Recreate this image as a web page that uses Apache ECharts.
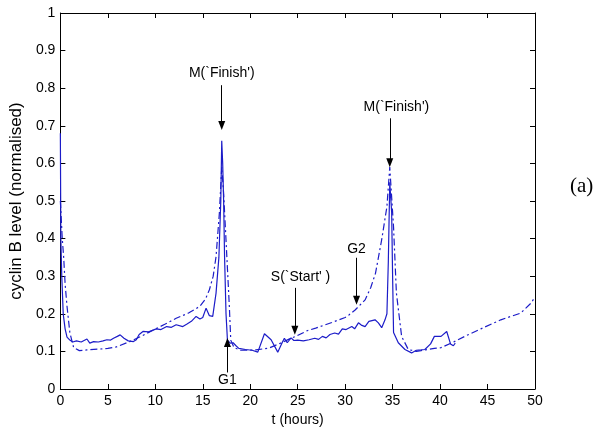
<!DOCTYPE html>
<html><head><meta charset="utf-8">
<script src="https://cdn.jsdelivr.net/npm/echarts@6/dist/echarts.min.js"></script>
<style>html,body{margin:0;padding:0;background:#fff}#c{width:605px;height:435px}</style>
</head><body><div id="c"></div>
<script>
// Measured cyclin B (solid)
const tSolid = [0,0.05,0.15,0.3,0.5,0.7,1.0,1.3,1.7,2.2,2.8,3.1,3.5,4.0,4.5,4.9,5.3,5.6,6.0,6.3,6.7,7.15,7.7,8.0,8.3,8.7,9.3,10.1,10.6,11.2,11.7,12.2,12.9,13.3,13.8,14.3,14.7,15.0,15.35,15.7,16.05,16.4,16.7,16.9,17.0,17.1,17.2,17.3,17.45,17.6,17.9,18.2,18.5,18.8,19.5,20.2,20.8,21.5,22.2,22.9,23.3,23.6,23.9,24.3,24.6,25.0,25.6,26.2,26.8,27.2,27.6,28.0,28.4,28.9,29.3,29.7,30.1,30.7,31.0,31.4,31.7,32.1,32.5,33.15,33.5,33.85,34.2,34.4,34.55,34.7,34.9,35.0,35.1,35.6,36.3,37.0,37.5,38.0,38.4,39.0,39.4,40.1,40.7,41.1,41.4,41.6];
const vSolid = [0.68,0.40,0.30,0.20,0.16,0.138,0.13,0.125,0.128,0.125,0.133,0.122,0.126,0.125,0.128,0.131,0.13,0.135,0.14,0.144,0.135,0.128,0.126,0.131,0.145,0.153,0.152,0.16,0.158,0.166,0.164,0.171,0.166,0.172,0.18,0.193,0.186,0.19,0.215,0.195,0.193,0.255,0.35,0.5,0.66,0.6,0.5,0.35,0.2,0.13,0.122,0.123,0.115,0.108,0.105,0.103,0.098,0.147,0.131,0.098,0.12,0.135,0.123,0.136,0.129,0.13,0.128,0.131,0.135,0.132,0.14,0.136,0.145,0.149,0.146,0.16,0.158,0.166,0.16,0.176,0.17,0.166,0.18,0.184,0.176,0.163,0.184,0.2,0.34,0.55,0.47,0.3,0.15,0.123,0.105,0.096,0.103,0.104,0.105,0.12,0.14,0.14,0.153,0.12,0.115,0.122];
// Model cyclin B (dash-dot)
const tModel = [0,0.2,0.35,0.5,0.7,1.0,1.4,2.0,2.8,4.0,5.0,5.9,7.3,8.5,9.8,11.0,12.2,13.5,14.7,15.3,15.7,16.1,16.4,16.75,17.0,17.2,17.45,17.8,17.95,18.3,19.0,20.6,22.0,23.2,24.3,24.8,26.0,26.9,28.6,30.0,30.4,31.05,32.1,32.7,33.2,33.85,34.4,34.7,35.1,35.4,35.95,36.65,37.5,38.0,39.4,40.1,41.5,42.6,44.3,46.4,48.5,49.6,50.0];
const vModel = [0.5,0.4,0.35,0.28,0.22,0.15,0.11,0.102,0.104,0.106,0.108,0.112,0.126,0.14,0.157,0.172,0.188,0.202,0.22,0.24,0.264,0.3,0.352,0.468,0.59,0.52,0.396,0.22,0.13,0.11,0.103,0.104,0.109,0.122,0.135,0.14,0.155,0.162,0.177,0.19,0.197,0.21,0.237,0.27,0.308,0.397,0.485,0.59,0.43,0.255,0.14,0.105,0.1,0.102,0.108,0.11,0.126,0.14,0.16,0.184,0.202,0.229,0.245];
// Annotations: text, arrow x, arrow start y, arrow end y, text x, text y
const annText = ["M(`Finish')","M(`Finish')","G1","S(`Start' )","G2"];
const annX     = [17.0, 34.7, 17.6, 24.7, 31.2];
const annFrom  = [0.808, 0.72, 0.044, 0.269, 0.349];
const annTip   = [0.701, 0.602, 0.124, 0.156, 0.236];
const annTextX = [17.0, 35.4, 17.6, 25.3, 31.2];
const annTextY = [0.84, 0.75, 0.024, 0.298, 0.373];
const xTicks = {min:0, max:50, interval:5};
const yTicks = {min:0, max:1, interval:0.1};

const FONT = "'Liberation Sans',Arial,sans-serif";
const BLUE = '#1c1cc8';
const chart = echarts.init(document.getElementById('c'), null, {renderer:'canvas'});
const axisCommon = {
  axisLine:{show:true, onZero:false, lineStyle:{color:'#000', width:1}},
  axisTick:{show:true, inside:true, length:5, lineStyle:{color:'#000'}},
  splitLine:{show:false}
};
chart.setOption({
  animation:false,
  title:{text:'(a)', left:565, top:171, textStyle:{fontFamily:"'Liberation Serif','Times New Roman',serif", fontSize:21, fontWeight:'normal', color:'#000'}},
  grid:{left:57, right:70, top:13, bottom:46, show:false},
  xAxis:[
    Object.assign({type:'value', position:'bottom', min:xTicks.min, max:xTicks.max, interval:xTicks.interval,
      name:'t (hours)', nameLocation:'middle', nameGap:20,
      nameTextStyle:{fontFamily:FONT, fontSize:14, color:'#000'},
      axisLabel:{fontFamily:FONT, fontSize:14, color:'#000', margin:5}}, axisCommon),
    Object.assign({type:'value', position:'top', min:xTicks.min, max:xTicks.max, interval:xTicks.interval,
      axisLabel:{show:false}}, axisCommon)
  ],
  yAxis:[
    Object.assign({type:'value', position:'left', min:yTicks.min, max:yTicks.max, interval:yTicks.interval,
      name:'cyclin B level (normalised)', nameLocation:'middle', nameGap:29,
      nameTextStyle:{fontFamily:FONT, fontSize:17, color:'#000'},
      axisLabel:{fontFamily:FONT, fontSize:14, color:'#000', margin:5}}, axisCommon),
    Object.assign({type:'value', position:'right', min:yTicks.min, max:yTicks.max, interval:yTicks.interval,
      axisLabel:{show:false}}, axisCommon)
  ],
  series:[
    {type:'line', name:'data', data:tSolid.map((t,i)=>[t,vSolid[i]]), showSymbol:false, symbol:'none',
      lineStyle:{color:BLUE, width:1.2}, z:3},
    {type:'line', name:'model', data:tModel.map((t,i)=>[t,vModel[i]]), showSymbol:false, symbol:'none',
      lineStyle:{color:BLUE, width:1.2, type:[7,3,2,3]}, z:2,
      markLine:{silent:true, animation:false, symbol:['none','triangle'], symbolSize:[7,9],
        lineStyle:{color:'#000', width:1, type:'solid'}, label:{show:false},
        data:annX.map((x,i)=>[{coord:[x,annFrom[i]]},{coord:[x,annTip[i]]}])},
      markPoint:{silent:true, animation:false, symbol:'circle', symbolSize:0,
        label:{show:true, position:'inside', fontFamily:FONT, fontSize:14, color:'#000'},
        data:annText.map((s,i)=>({coord:[annTextX[i],annTextY[i]], value:s, label:{formatter:s}}))}
    }
  ]
});
</script></body></html>
